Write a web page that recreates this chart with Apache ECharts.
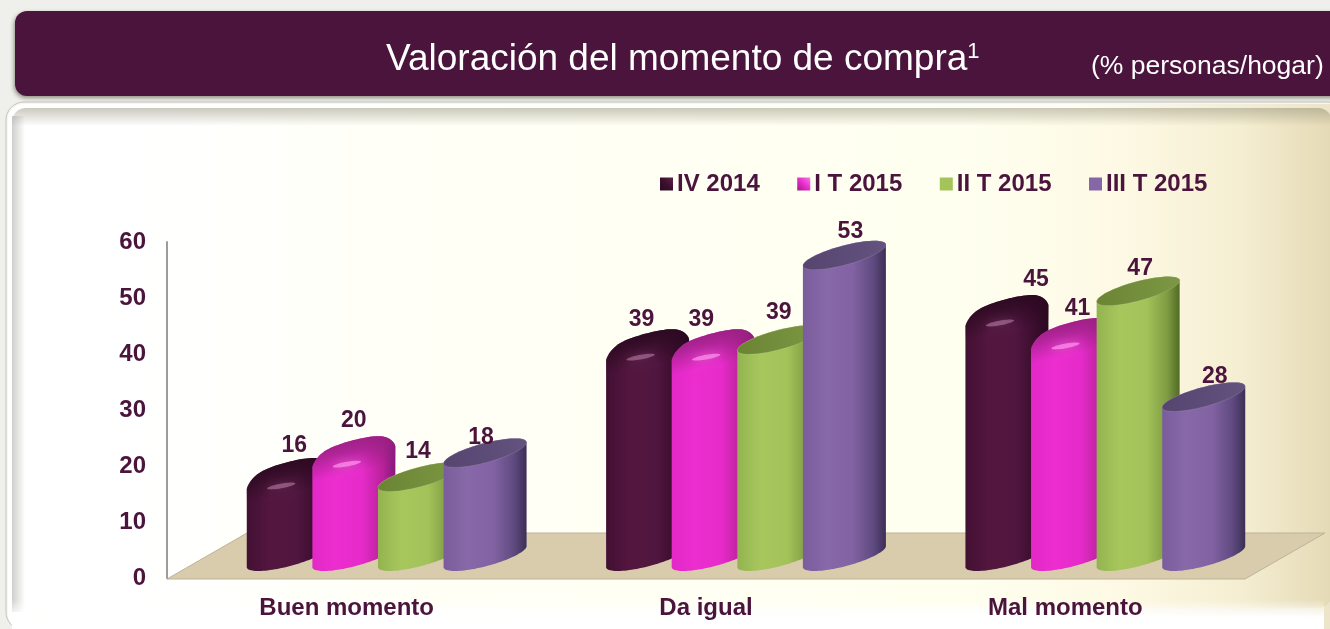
<!DOCTYPE html>
<html>
<head>
<meta charset="utf-8">
<style>html,body{margin:0;padding:0;background:#efefeb}#c{width:1330px;height:629px}</style>
<script src="https://cdn.jsdelivr.net/npm/echarts@6/dist/echarts.min.js"></script>
</head>
<body>
<div id="c"></div>
<script>
// ---- data ----
const categories = ['Buen momento', 'Da igual', 'Mal momento'];
const yTicks = { min: 0, max: 60, interval: 10 };
const seriesNames = ['IV 2014', 'I T 2015', 'II T 2015', 'III T 2015'];
// numbers printed above the cylinders
const ivLabels  = [16, 39, 45];
const iLabels   = [20, 39, 41];
const iiLabels  = [14, 39, 47];
const iiiLabels = [18, 53, 28];
// cylinder heights as drawn, read against the axis
const ivHeights  = [15.1, 38.1, 44.2];
const iHeights   = [19.0, 38.1, 40.1];
const iiHeights  = [14.2, 38.7, 47.4];
const iiiHeights = [18.5, 53.8, 28.5];
const allLabels = [ivLabels, iLabels, iiLabels, iiiLabels];
const allHeights = [ivHeights, iHeights, iiHeights, iiiHeights];

// ---- layout and style ----
const INK = '#4b143c';
const FONT = '"Liberation Sans", Arial, sans-serif';
const grid = { left: 167, right: 85, top: 242, bottom: 51 };
const depth = { dx: 40, dy: -21.5 };      // floor shift of the bars from the axis plane
const step = 65.6, a = 41.5, p = 10.5, q = 10;
const palette = [
  { legend: [[0,'#2a0a20'],[0.5,'#3b0f2e'],[1,'#5e2450']], side: ['#421033','#54163f','#511640','#3a0c2c','#2a0a20'], dome: '#2a0920', hi: 'rgba(205,140,185,0.5)' },
  { legend: [[0,'#9a1c88'],[0.5,'#ea2ccd'],[1,'#f57ae2']], side: ['#e229c7','#ec2dcf','#e62bca','#b82299','#86197a'], dome: '#96207f', hi: 'rgba(255,150,236,0.7)' },
  { legend: [[0,'#a3c45a'],[1,'#a3c45a']], side: ['#93b350','#a7c75d','#a3c35a','#7f9c43','#516b25'], cap: ['#6a8434','#7d9844'] },
  { legend: [[0,'#8566a6'],[1,'#8566a6']], side: ['#7a5d9c','#8768a8','#8262a3','#5f4a80','#3c2f55'], cap: ['#55456f','#64527f'] }
];
// where each printed number sits relative to the top of its cylinder
const labelNudges = [
  [[6,-26],[-6,-23],[29,-29]],
  [[0,-29],[-12,-23],[5,-23]],
  [[-1.5,-25],[0,-27],[2,-22]],
  [[-4,-15],[6,-24],[11,-20]]
];

function ell(cx, cy, t, k) {
  k = k || 1;
  return [cx + a * k * Math.cos(t), cy - p * k * Math.cos(t) + q * k * Math.sin(t)];
}
function arc(cx, cy, from, to, k, round) {
  const pts = [], n = 48;
  for (let i = 0; i <= n; i++) {
    const t = from + (to - from) * i / n, d = ell(cx, cy, t, k);
    if (round) d[1] += round * Math.pow(Math.abs(Math.cos(t)), 6);
    pts.push(d);
  }
  return pts;
}
function grad(x, y, x2, y2, stops) {
  return new echarts.graphic.LinearGradient(x, y, x2, y2, stops.map(function (d) { return { offset: d[0], color: d[1] }; }));
}
function hGrad(stops) { return grad(0, 0, 1, 0, stops); }
function vGrad(stops) { return grad(0, 0, 0, 1, stops); }
function barCenter(api, cat, s, v) {
  const pt = api.coord([cat, v]);
  return [pt[0] + depth.dx + (s - 1.5) * step, pt[1] + depth.dy];
}
function renderBar(s) {
  return function (params, api) {
    const cat = api.value(0), v = api.value(1), st = palette[s];
    const top = barCenter(api, cat, s, v), base = barCenter(api, cat, s, 0);
    const cx = top[0], cyT = top[1], cyB = base[1];
    const round = st.cap ? 0 : 7;
    const sil = arc(cx, cyT, Math.PI, 2 * Math.PI, 1, round).concat(arc(cx, cyB, 0, Math.PI));
    const side = st.side;
    const kids = [{
      type: 'polygon', shape: { points: sil },
      style: { fill: hGrad([[0, side[0]], [0.28, side[1]], [0.6, side[2]], [0.85, side[3]], [1, side[4]]]) }
    }];
    if (st.cap) {
      kids.push({
        type: 'polygon', shape: { points: arc(cx, cyT, 0, 2 * Math.PI) },
        style: { fill: hGrad([[0, st.cap[0]], [1, st.cap[1]]]), stroke: 'rgba(255,255,255,0.12)', lineWidth: 1 }
      });
    } else {
      const band = 22;
      const dome = arc(cx, cyT, Math.PI, 2 * Math.PI, 1, round).concat(arc(cx, cyT + band, 0, Math.PI));
      kids.push({
        type: 'polygon', shape: { points: dome },
        style: { fill: grad(0.44, 0, 0.57, 1, [[0, st.dome], [0.3, st.dome + 'aa'], [0.72, st.dome + '00'], [1, st.dome + '00']]) }
      });
      const hx = cx - 7, hy = cyT + 14;
      kids.push({
        type: 'polygon',
        shape: { points: arc(hx, hy, 0, 2 * Math.PI, 0.34).map(function (d) { return [d[0], hy + (d[1] - hy) * 0.7]; }) },
        style: { fill: st.hi, shadowBlur: 10, shadowColor: st.hi }
      });
    }
    return { type: 'group', children: kids };
  };
}
function renderLabel(params, api) {
  const cat = api.value(0), s = api.value(2);
  const top = barCenter(api, cat, s, api.value(1));
  const nudge = labelNudges[s][cat];
  return {
    type: 'text', silent: true,
    style: {
      x: top[0] + nudge[0], y: top[1] + nudge[1], text: String(allLabels[s][cat]),
      fill: INK, font: 'bold 23px ' + FONT, align: 'center', verticalAlign: 'middle'
    }
  };
}

const chart = echarts.init(document.getElementById('c'), null, { renderer: 'canvas' });

const series = seriesNames.map(function (name, s) {
  return {
    name: name, type: 'custom', coordinateSystem: 'cartesian2d', clip: false, silent: true,
    z: 10 + s, renderItem: renderBar(s), encode: { x: 0, y: 1 },
    itemStyle: { color: palette[s].side[1] },
    data: allHeights[s].map(function (v, c) { return [c, v]; })
  };
});
const labelData = [];
allHeights.forEach(function (arr, s) { arr.forEach(function (v, c) { labelData.push([c, v, s]); }); });
series.push({
  type: 'custom', coordinateSystem: 'cartesian2d', clip: false, silent: true, z: 30,
  renderItem: renderLabel, encode: { x: 0, y: 1 }, data: labelData
});

const W = 1330;
const panelX = 12, panelY = 108, panelR = 14;
const panelStops = [[0, '#ffffff'], [0.1, '#ffffff'], [0.3, '#fffff7'], [0.72, '#fffff0'], [0.84, '#fdf9e4'], [0.93, '#f5eed2'], [1, '#e5dab6']];
const rimStops = [[0, '#ffffff'], [0.8, '#fdfdf6'], [1, '#ece3c6']];
const graphic = [
  { type: 'rect', z: -20, shape: { x: 6, y: 102, width: 1340, height: 528, r: 18 },
    style: { fill: '#f6f6f2', stroke: '#c4c4bc', lineWidth: 1 } },
  { type: 'rect', z: -19, shape: { x: 8, y: 104, width: 1340, height: 526, r: 16 },
    style: { fill: hGrad(rimStops) } },
  { type: 'rect', z: -18, shape: { x: panelX, y: panelY, width: W - panelX + 2, height: 500, r: panelR },
    style: { fill: hGrad(panelStops) } },
  // inner bevel: top and left shading, white foot
  { type: 'rect', z: -17, shape: { x: panelX, y: panelY, width: W - panelX + 2, height: 18, r: [panelR, panelR, 0, 0] },
    style: { fill: vGrad([[0, 'rgba(130,128,105,0.42)'], [1, 'rgba(130,128,105,0)']]) } },
  { type: 'rect', z: -17, shape: { x: panelX, y: panelY + 8, width: 13, height: 496 },
    style: { fill: hGrad([[0, 'rgba(140,140,135,0.42)'], [1, 'rgba(140,140,135,0)']]) } },
  { type: 'rect', z: -16, shape: { x: panelX, y: 600, width: W - panelX - 6, height: 29 },
    style: { fill: vGrad([[0, 'rgba(255,255,255,0)'], [0.6, 'rgba(255,255,255,1)'], [1, 'rgba(255,255,255,1)']]) } },
  // header band
  { type: 'rect', z: -10, shape: { x: 15, y: 11, width: W + 40, height: 85, r: 12 },
    style: { fill: '#4b143c', shadowBlur: 4, shadowColor: 'rgba(60,60,40,0.55)', shadowOffsetX: -1, shadowOffsetY: 2 } },
  // chart floor
  { type: 'polygon', z: -5, shape: { points: [[167, 579], [1245, 579], [1325, 533], [247, 533]] },
    style: { fill: '#d9ccac', stroke: '#bdb399', lineWidth: 1 } }
];

chart.setOption({
  animation: false,
  backgroundColor: '#efefeb',
  title: [
    { left: 386, top: 41, itemGap: 0, padding: 0,
      text: '{m|Valoración del momento de compra}{s|1}',
      textStyle: { rich: {
        m: { fontFamily: FONT, fontSize: 37, color: '#ffffff', fontWeight: 'normal' },
        s: { fontFamily: FONT, fontSize: 22, color: '#ffffff', fontWeight: 'normal', verticalAlign: 'top', padding: [0, 0, 14, 0] }
      } } },
    { left: 1091, top: 53, padding: 0, text: '(% personas/hogar)',
      textStyle: { fontFamily: FONT, fontSize: 26.5, color: '#ffffff', fontWeight: 'normal' } }
  ],
  legend: {
    left: 660, top: 172, padding: 0, orient: 'horizontal', icon: 'rect', itemWidth: 13, itemHeight: 13, itemGap: 37.5,
    selectedMode: false,
    textStyle: { fontFamily: FONT, fontSize: 24, fontWeight: 'bold', color: INK, padding: [0, 0, 0, -1] },
    data: seriesNames.map(function (n, s) {
      return { name: n, itemStyle: { color: grad(0, 1, 1, 0, palette[s].legend) } };
    })
  },
  grid: grid,
  xAxis: {
    type: 'category', data: categories,
    axisLine: { show: false }, axisTick: { show: false }, splitLine: { show: false },
    axisLabel: { color: INK, fontFamily: FONT, fontWeight: 'bold', fontSize: 24, margin: 18 }
  },
  yAxis: {
    type: 'value', min: yTicks.min, max: yTicks.max, interval: yTicks.interval,
    axisLine: { show: true, lineStyle: { color: '#9c9c9c', width: 2 } }, axisTick: { show: false }, splitLine: { show: false },
    axisLabel: { color: INK, fontFamily: FONT, fontWeight: 'bold', fontSize: 24, margin: 21, padding: [6, 0, 0, 0] }
  },
  graphic: graphic,
  series: series
});
</script>
</body>
</html>
